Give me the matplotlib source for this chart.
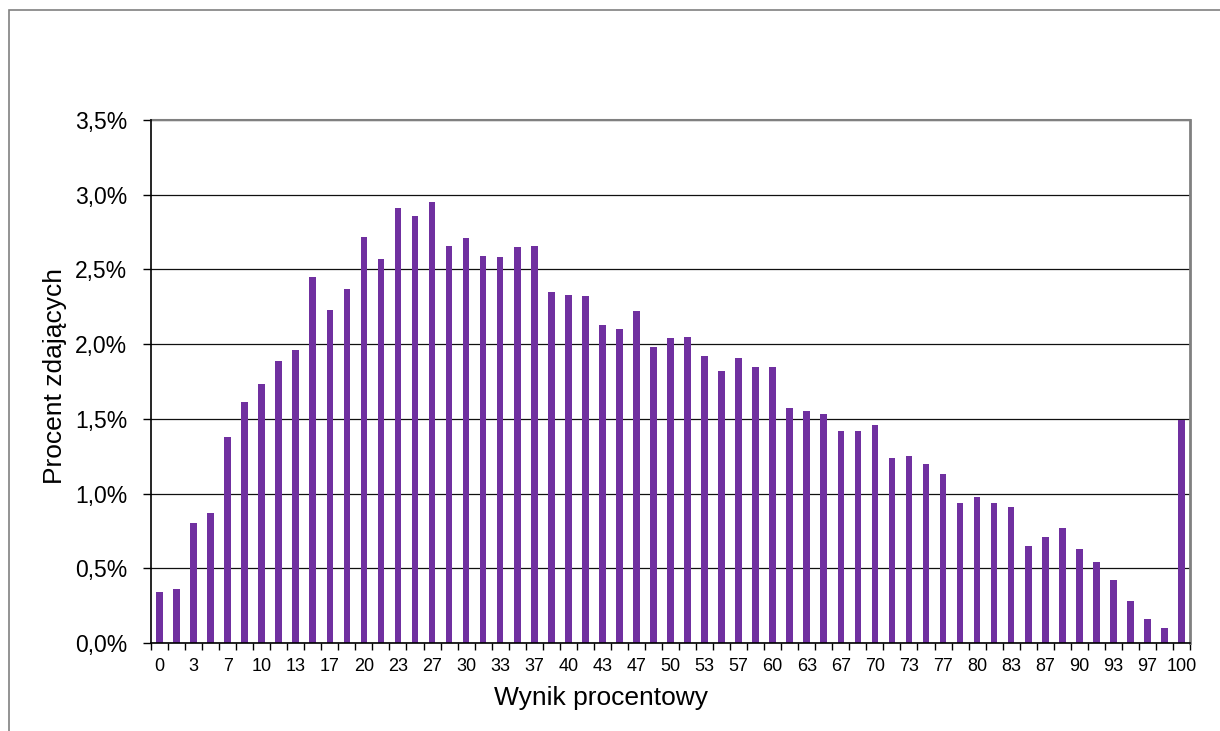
import matplotlib
matplotlib.use("Agg")
import matplotlib.pyplot as plt
import matplotlib.patches as patches
from matplotlib.ticker import FuncFormatter, FixedLocator
import numpy as np

plt.rcParams['font.family'] = ['Liberation Sans', 'DejaVu Sans']

# wynik procentowy (kategorie osi X)
categories = [0, 2, 3, 5, 7, 8, 10, 12, 13, 15, 17, 18, 20, 22, 23, 25, 27, 28, 30, 32,
              33, 35, 37, 38, 40, 42, 43, 45, 47, 48, 50, 52, 53, 55, 57, 58, 60, 62, 63, 65,
              67, 68, 70, 72, 73, 75, 77, 78, 80, 82, 83, 85, 87, 88, 90, 92, 93, 95, 97, 98,
              100]

# procent zdajacych (%)
percent = [0.34, 0.36, 0.80, 0.87, 1.38, 1.61, 1.73, 1.89, 1.96, 2.45,
           2.23, 2.37, 2.72, 2.57, 2.91, 2.86, 2.95, 2.66, 2.71, 2.59,
           2.58, 2.65, 2.66, 2.35, 2.33, 2.32, 2.13, 2.10, 2.22, 1.98,
           2.04, 2.05, 1.92, 1.82, 1.91, 1.85, 1.85, 1.57, 1.55, 1.53,
           1.42, 1.42, 1.46, 1.24, 1.25, 1.20, 1.13, 0.94, 0.98, 0.94,
           0.91, 0.65, 0.71, 0.77, 0.63, 0.54, 0.42, 0.28, 0.16, 0.10,
           1.49]

tick_labels = [str(c) for c in categories[::2]]

fig = plt.figure(figsize=(12.2, 7.31), dpi=100)
ax = fig.add_axes([151 / 1220, 1 - 643 / 731, (1190 - 151) / 1220, (643 - 120) / 731])

x = np.arange(len(categories))
ax.bar(x, percent, width=0.39, color='#7030A0', zorder=3)

ax.set_xlim(-0.5, len(categories) - 0.5)
ax.set_ylim(0, 3.5)
ax.set_yticks(np.arange(0, 3.51, 0.5))
ax.yaxis.set_major_formatter(FuncFormatter(lambda v, p: f"{v:.1f}%".replace('.', ',')))

ax.set_xticks(x[::2])
ax.set_xticklabels(tick_labels)
ax.xaxis.set_minor_locator(FixedLocator(np.arange(-0.5, len(categories), 1.0)))
ax.tick_params(axis='x', which='major', length=0, pad=11, labelsize=13)
ax.tick_params(axis='x', which='minor', length=5, width=1, color='black', direction='out')
ax.tick_params(axis='y', which='major', length=6, width=1, pad=11, labelsize=16.5)

ax.grid(axis='y', color='#101010', linewidth=0.9, zorder=0)
ax.set_axisbelow(True)

for s in ['left', 'bottom']:
    ax.spines[s].set_color('black')
    ax.spines[s].set_linewidth(1.2)
    ax.spines[s].set_zorder(4)
ax.spines['top'].set_color('#808080')
ax.spines['top'].set_linewidth(1.5)
ax.spines['right'].set_color('#808080')
ax.spines['right'].set_linewidth(2)

ax.set_xlabel("Wynik procentowy", fontsize=19, va='center')
ax.xaxis.set_label_coords(0.433, -0.105)
ax.set_ylabel("Procent zdających", fontsize=19, va='center', rotation_mode='anchor')
ax.yaxis.set_label_coords(-0.092, 0.51)

# ramka wykresu (przycieta z prawej i z dolu)
border = patches.Rectangle((8.5 / 1220, -0.2), 2, 1 - 9.5 / 731 + 0.2,
                           transform=fig.transFigure, fill=False,
                           edgecolor='#808080', linewidth=1.2, clip_on=False)
fig.patches.append(border)

fig.savefig("out.png", dpi=100)
